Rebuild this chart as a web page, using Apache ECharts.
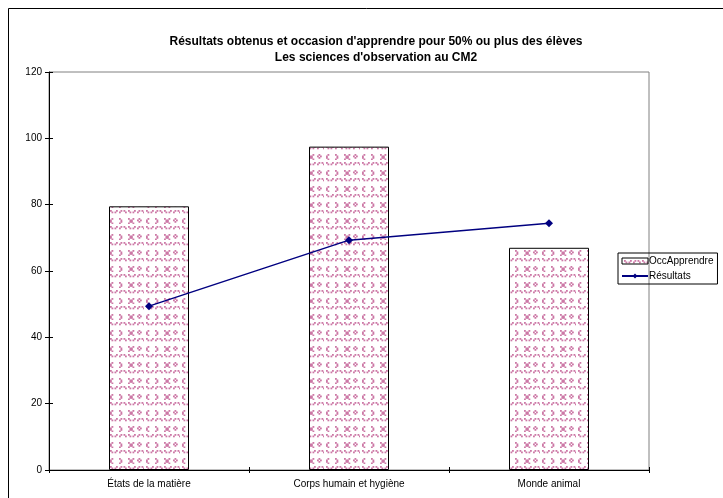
<!DOCTYPE html>
<html>
<head>
<meta charset="utf-8">
<script src="https://cdn.jsdelivr.net/npm/echarts@6/dist/echarts.min.js"></script>
<style>
  html, body { margin: 0; padding: 0; background: #fff; }
  #chart { width: 723px; height: 498px; }
</style>
</head>
<body>
<div id="chart"></div>
<script>
// Categories and values
const categories = ['États de la matière', 'Corps humain et hygiène', 'Monde animal'];
const occApprendre = [79.5, 97.5, 67];
const resultats = [49.4, 69.3, 74.4];
const yTicks = [0, 20, 40, 60, 80, 100, 120];

// Pink dotted motif used as the bar fill
function makePattern() {
  const c = document.createElement('canvas');
  c.width = 36; c.height = 16;
  const g = c.getContext('2d');
  g.fillStyle = '#ffffff';
  g.fillRect(0, 0, 36, 16);
  g.fillStyle = '#cc78a6';
  const shapes = {
    v: [[0,0],[1,1],[3,1],[4,0]],
    a: [[0,1],[1,0],[3,0],[4,1]],
    l: [[1,0],[0,1],[0,2],[1,3]],
    r: [[0,0],[1,1],[1,2],[0,3]],
    x: [[0,0],[3,0],[1,1],[2,1],[1,2],[2,2],[0,3],[3,3]],
    d: [[1,0],[0,1],[2,1],[1,2]]
  };
  const layout = [
    ['v', 'a', 'v', 'a'],
    ['l', 'r', 'x', 'd']
  ];
  layout.forEach((row, ri) => {
    row.forEach((s, ci) => {
      const ox = ci * 9 + 2, oy = ri * 8 + 2;
      shapes[s].forEach(([px, py]) => g.fillRect(ox + px * 1.5, oy + py * 1.5, 1.8, 1.8));
    });
  });
  return c;
}
const pattern = { image: makePattern(), repeat: 'repeat' };

const chart = echarts.init(document.getElementById('chart'), null, { renderer: 'canvas' });
const font = 'Liberation Sans, Arial, sans-serif';

chart.setOption({
  animation: false,
  backgroundColor: '#fff',
  textStyle: { fontFamily: font },
  title: {
    text: "Résultats obtenus et occasion d'apprendre pour 50% ou plus des élèves\nLes sciences d'observation au CM2",
    left: 371, top: 29, textAlign: 'center',
    textStyle: { fontSize: 12, fontWeight: 'bold', color: '#000', lineHeight: 16, fontFamily: font }
  },
  graphic: [{
    type: 'rect', shape: { x: 8.5, y: 8.5, width: 800, height: 600 },
    style: { fill: 'none', stroke: '#000', lineWidth: 1 }, silent: true
  }],
  legend: {
    orient: 'vertical', left: 618, top: 253,
    borderColor: '#000', borderWidth: 1, padding: [3, 4, 3, 3],
    itemWidth: 26, itemHeight: 6, itemGap: 5,
    textStyle: { fontSize: 10, color: '#000', fontFamily: font, padding: [0, 0, 0, -4] },
    data: [
      { name: 'OccApprendre', icon: 'rect', itemStyle: { color: pattern, borderColor: '#000', borderWidth: 1 } },
      { name: 'Résultats' }
    ]
  },
  grid: {
    left: 49, right: 74, top: 72, bottom: 28,
    show: true, borderColor: '#808080', borderWidth: 1, backgroundColor: '#fff'
  },
  xAxis: [{
    type: 'category', data: categories, boundaryGap: true,
    axisLine: { lineStyle: { color: '#000', width: 1 } },
    axisTick: { show: true, length: 3, lineStyle: { color: '#000' } },
    axisLabel: { fontSize: 10, color: '#000', margin: 9, fontFamily: font }
  }, {
    type: 'category', data: categories, position: 'bottom', boundaryGap: true, z: 10,
    axisLine: { show: false },
    axisTick: { show: true, inside: true, length: 3, lineStyle: { color: '#000' } },
    axisLabel: { show: false }
  }],
  yAxis: [{
    type: 'value', min: yTicks[0], max: yTicks[yTicks.length - 1], interval: 20,
    axisLine: { show: true, lineStyle: { color: '#000', width: 1 } },
    axisTick: { show: true, length: 4, lineStyle: { color: '#000' } },
    axisLabel: { fontSize: 10, color: '#000', margin: 7, fontFamily: font },
    splitLine: { show: false }
  }, {
    type: 'value', min: yTicks[0], max: yTicks[yTicks.length - 1], interval: 20, position: 'left', z: 10,
    axisLine: { show: false },
    axisTick: { show: true, inside: true, length: 4, lineStyle: { color: '#000' } },
    axisLabel: { show: false },
    splitLine: { show: false }
  }],
  series: [{
    name: 'OccApprendre', type: 'bar', data: occApprendre, barWidth: '40%',
    itemStyle: { color: pattern, borderColor: '#000', borderWidth: 1 }
  }, {
    name: 'Résultats', type: 'line', data: resultats,
    symbol: 'diamond', symbolSize: 8,
    lineStyle: { color: '#000080', width: 1.5 },
    itemStyle: { color: '#000080' }
  }]
});
</script>
</body>
</html>
